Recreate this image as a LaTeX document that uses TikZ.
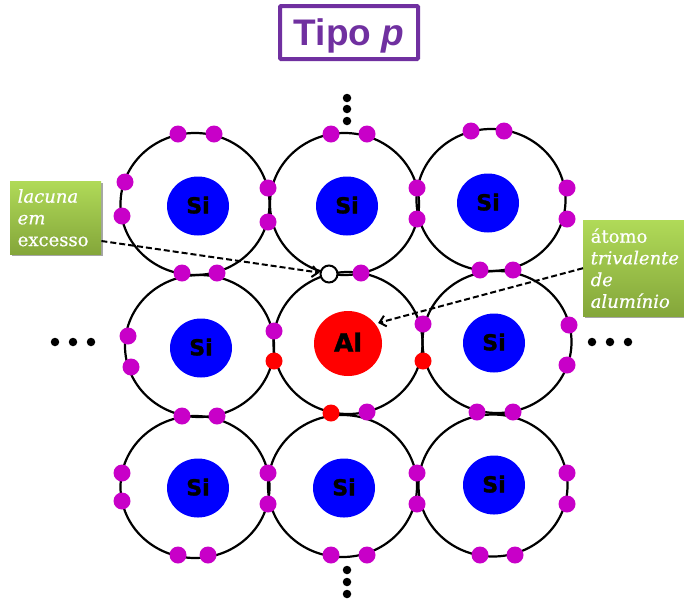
\documentclass[tikz,border=0pt]{standalone}
\usepackage{fontspec}
\setmainfont[FakeBold=0.5]{DejaVu Serif}
\setsansfont{Liberation Sans}
\newfontfamily\nucfont[FakeBold=1.5]{DejaVu Sans Bold}
\usetikzlibrary{shadows,shapes.geometric,arrows.meta}
\definecolor{tipopurple}{HTML}{7030A0}
\definecolor{electron}{HTML}{C800C8}
\definecolor{greentop}{HTML}{B0DA58}
\definecolor{greenbot}{HTML}{84A63A}
\tikzset{
	shell/.style={ellipse, draw, line width=2.2pt, minimum width=149pt, minimum height=142pt, inner sep=0pt, outer sep=0pt},
	nucleus/.style={ellipse, fill=blue, minimum width=62pt, minimum height=59pt, inner sep=0pt, text depth=2pt, font=\nucfont\fontsize{22}{22}\selectfont},
	magentadot/.style={circle, fill=electron, minimum size=17pt, inner sep=0pt},
	reddot/.style={circle, fill=red, minimum size=17pt, inner sep=0pt},
	blackdot/.style={circle, fill=black, minimum size=8.5pt, inner sep=0pt},
	labelbox/.style={rectangle, top color=greentop, bottom color=greenbot, text=white, inner xsep=7.5pt, inner ysep=0pt, anchor=north west,
		text width=#1, align=left, font=\fontsize{18}{21.7}\selectfont, drop shadow={shadow xshift=1.5pt, shadow yshift=-2pt, opacity=.7}},
	pointer/.style={-{Straight Barb[length=6pt,width=11pt]}, line width=2pt, dash pattern=on 6pt off 3pt},
}
\begin{document}
\begin{tikzpicture}[x=1pt,y=-1pt]
	\useasboundingbox (0,0) rectangle (684,598);

	\node[rectangle, draw=tipopurple, line width=4pt, rounded corners=1pt, text=tipopurple, minimum width=138pt, minimum height=53pt,
		text height=26pt, text depth=1pt, font=\sffamily\bfseries\fontsize{37}{37}\selectfont] (title) at (349,32.5) {Tipo \textit{p}};

	% shells
	\foreach \n/\x/\y in {a/195/204, b/344.5/204, c/491/200, d/199.5/346, e/348/343, f/497/342, g/195/487, h/342.5/486, i/493/485.5}
		\node[shell] (shell\n) at (\x,\y) {};

	% nuclei
	\foreach \n/\x/\y in {a/198/206, b/347/206, c/488/203, d/201/348, f/494/343, g/198/488, h/344/488, i/494/485}
		\node[nucleus] (nuc\n) at (\x,\y) {Si};
	\node[nucleus, fill=red, minimum width=68pt, minimum height=65pt, text depth=3pt, font=\nucfont\fontsize{25}{25}\selectfont] (nuce) at (348,343.5) {Al};

	% valence electrons
	\foreach \x/\y [count=\i] in {178/134, 214/134, 125/182, 122/216, 268/188, 268/222,
			331/134, 367/134, 417/188, 417/219, 471/131, 504/131, 567/188, 567/219,
			182/273, 217/273, 361/273, 480/270, 513/270,
			128/336, 131/367, 274/331, 423/324, 569/325, 567/365,
			367/412, 182/416, 217/416, 477/412, 513/412,
			122/473, 122/501, 268/473, 268/504, 417/473, 417/504, 567/473, 567/504,
			178/555, 208/555, 331/555, 367/555, 480/555, 515/555}
		\node[magentadot] (el\i) at (\x,\y) {};
	\foreach \x/\y [count=\i] in {274/361, 423/361, 331/413}
		\node[reddot] (ered\i) at (\x,\y) {};
	\node[circle, draw, fill=white, line width=2pt, minimum size=17pt, inner sep=0pt] (hole) at (329,274) {};

	% continuation dots
	\foreach \x/\y [count=\i] in {347/98, 347/109, 347/121, 347/570, 347/582, 347/594, 55/342, 73/342, 91/342, 592/342, 610/342, 628/342}
		\node[blackdot] (dot\i) at (\x,\y) {};

	% captions
	\node[labelbox=76pt, minimum height=73pt] (lacuna) at (10,181) {\textit{lacuna}\\\textit{em}\\excesso};
	\node[labelbox=86pt, minimum height=96pt] (atomo) at (583,220) {átomo\\\textit{trivalente}\\\textit{de}\\\textit{alumínio}};

	\draw[pointer] (lacuna.-27) -- (hole);
	\draw[pointer, shorten >=3pt] (atomo.west) -- (nuce.36);
\end{tikzpicture}
\end{document}
